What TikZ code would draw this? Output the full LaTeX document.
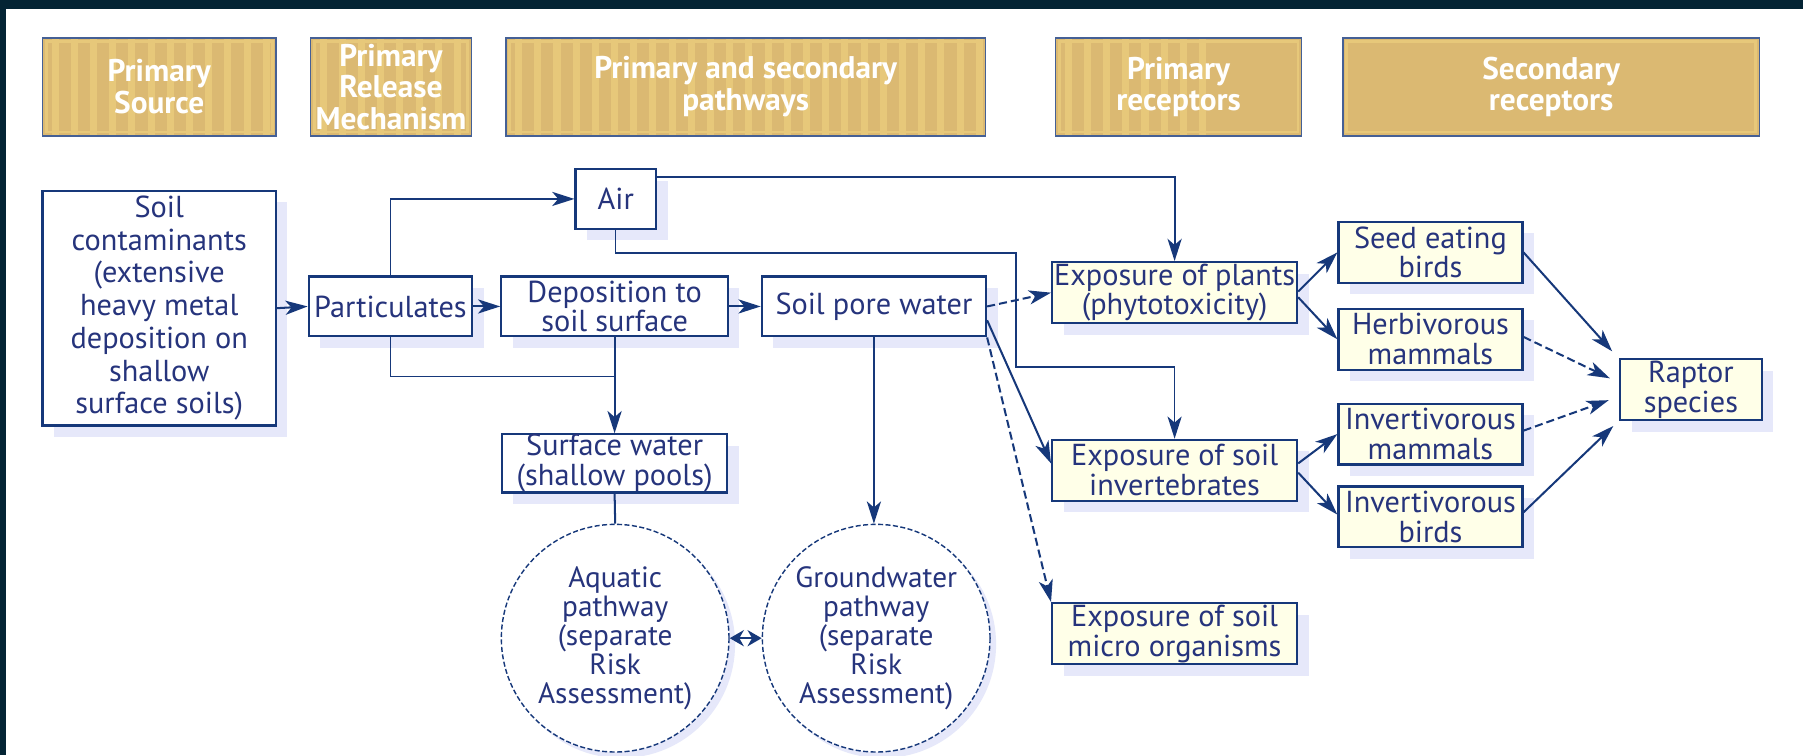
\documentclass[tikz,border=0pt]{standalone}
\usepackage{fontspec}
\setmainfont{PT Sans}
\usepackage{tikz}
\usetikzlibrary{arrows.meta, shadows, calc}

\definecolor{navy}{RGB}{22,56,122}
\definecolor{ink}{RGB}{38,52,124}
\definecolor{headtan}{RGB}{219,185,114}
\definecolor{headstripe}{RGB}{231,200,122}
\definecolor{cream}{RGB}{255,255,232}
\definecolor{lilac}{RGB}{230,232,250}
\definecolor{framecol}{RGB}{4,36,52}

\newcommand\headstripes[1]{%
  \ifnum#1>0
    \foreach \k in {1,...,#1}
      \fill[headstripe] ([xshift=\k*9.5pt-5pt]path picture bounding box.south west) rectangle ++(3.5pt,17mm);
  \fi
  \draw[headstripe, line width=1.4pt] ([shift={(1.8pt,1.8pt)}]path picture bounding box.south west) rectangle ([shift={(-1.8pt,-1.8pt)}]path picture bounding box.north east);
}

\begin{document}
\begin{tikzpicture}[x=0.2mm, y=-0.2mm, >={Stealth[length=11pt,width=7pt,inset=3pt]},
  every node/.style={text=ink, font=\fontsize{15}{14.8}\selectfont, align=center, inner sep=0pt},
  header/.style={draw=navy!80, line width=0.8pt, fill=headtan, text=white,
    font=\bfseries\fontsize{15.5}{15.6}\selectfont, minimum height=17mm, path picture={\headstripes{#1}}},
  box/.style={draw=navy, line width=1.1pt, fill=white, minimum height=10.4mm,
    drop shadow={shadow xshift=5.7pt, shadow yshift=-5.7pt, fill=lilac, opacity=1}},
  recbox/.style={box, fill=cream, minimum height=10.6mm},
  pool/.style={circle, draw=navy, line width=0.7pt, dash pattern=on 2.5pt off 1.2pt, fill=white,
    minimum size=39.6mm, font=\fontsize{14.5}{14.3}\selectfont,
    drop shadow={shadow xshift=3pt, shadow yshift=-3pt, fill=lilac, opacity=1}},
  line/.style={draw=navy, line width=1pt},
  thinline/.style={draw=navy, line width=0.7pt},
  dashline/.style={line, dash pattern=on 4pt off 2pt}]

\useasboundingbox (0,0) rectangle (1568,657);
\fill[white] (0,0) rectangle (1568,657);
\fill[framecol] (0,0) rectangle (1568,8);
\fill[framecol] (0,0) rectangle (5,657);

\node[header=45, minimum width=40.6mm] (hsource) at (138.5,75.5) {Primary\\Source};
\node[header=45, minimum width=28mm] (hrelease) at (340,75.5) {Primary\\Release\\Mechanism};
\node[header=45, minimum width=83.4mm] (hpath) at (648.5,75.5) {Primary and secondary\\pathways};
\node[header=8, minimum width=42.8mm] (hprimrec) at (1025,75.5) {Primary\\receptors};
\node[header=0, minimum width=72.4mm] (hsecrec) at (1349,75.5) {Secondary\\receptors};

\node[box, minimum width=40.6mm, minimum height=40.8mm, font=\fontsize{15}{16.2}\selectfont] (src) at (138.5,268)
  {Soil\\contaminants\\(extensive\\heavy metal\\deposition on\\shallow\\surface soils)};
\node[box, minimum width=28.4mm] (part) at (339.5,266.5) {Particulates};
\node[box, minimum width=14mm] (air) at (535.5,173) {Air};
\node[box, minimum width=39.4mm] (depo) at (534.5,266.5) {Deposition to\\soil surface};
\node[box, minimum width=39mm] (pore) at (760,266.5) {Soil pore water};
\node[box, minimum width=39.2mm, minimum height=10mm] (surf) at (534.5,403) {Surface water\\(shallow pools)};

\node[pool] (aquatic) at (535,555) {Aquatic\\pathway\\(separate\\Risk\\Assessment)};
\node[pool] (ground) at (762,555) {Groundwater\\pathway\\(separate\\Risk\\Assessment)};

\node[recbox, minimum width=42.6mm] (plants) at (1021.5,254.5) {Exposure of plants\\(phytotoxicity)};
\node[recbox, minimum width=42.6mm] (invert) at (1021.5,409) {Exposure of soil\\invertebrates};
\node[recbox, minimum width=42.6mm] (micro) at (1021.5,551) {Exposure of soil\\micro organisms};

\node[recbox, minimum width=32mm] (seed) at (1244,219.5) {Seed eating\\birds};
\node[recbox, minimum width=32mm] (herb) at (1244,295) {Herbivorous\\mammals};
\node[recbox, minimum width=32mm] (invmam) at (1244,377.5) {Invertivorous\\mammals};
\node[recbox, minimum width=32mm] (invbird) at (1244,449.5) {Invertivorous\\birds};
\node[recbox, minimum width=24.6mm] (raptor) at (1470.5,339) {Raptor\\species};

\coordinate (dropjoin) at (534.5,327.5);
\coordinate (airbend) at (883.5,220);
\coordinate (soilbend) at (883.5,319);

\draw[line,->] (src.east) -- (part.west);
\draw[line,->] (part.east) -- (depo.west);
\draw[line,->] (depo.east) -- (pore.west);
\draw[thinline,->] (part.north) |- (air.west);
\draw[thinline] (part.south) |- (dropjoin);
\draw[line,->] (depo.south) -- (surf.north);
\draw[line,->] ($(air.north east)+(0,8)$) -| (plants.north);
\draw[thinline,->] (air.south) |- (airbend) -- (soilbend) -| (invert.north);
\draw[dashline,->] (pore.east) -- (plants.west);
\draw[line,->] ($(pore.east)+(0,12)$) -- ($(invert.west)+(0,-6)$);
\draw[dashline,->] (pore.south east) -- (micro.north west);
\draw[line,->] (pore.south) -- (pore.south |- ground.north);
\draw[line] (surf.south) -- (aquatic.north);
\draw[line,<->,>={Stealth[length=7pt,width=8pt]}] (aquatic.east) -- (ground.west);

\draw[line,->] ($(plants.east)+(0,-1)$) -- (seed.west);
\draw[line,->] ($(plants.east)+(0,4)$) -- (herb.west);
\draw[line,->] ($(invert.east)+(0,-6)$) -- (invmam.west);
\draw[line,->] ($(invert.east)+(0,2)$) -- ($(invbird.west)+(0,-2)$);

\draw[line,->] (seed.east) -- ($(raptor.north west)+(-6,-6)$);
\draw[dashline,->] ($(herb.east)+(0,-2)$) -- ($(raptor.west)+(-8,-10)$);
\draw[dashline,->] ($(invmam.east)+(0,-3)$) -- ($(raptor.west)+(-9,9)$);
\draw[line,->] ($(invbird.east)+(0,-4)$) -- ($(raptor.south west)+(-5,4)$);
\end{tikzpicture}
\end{document}
